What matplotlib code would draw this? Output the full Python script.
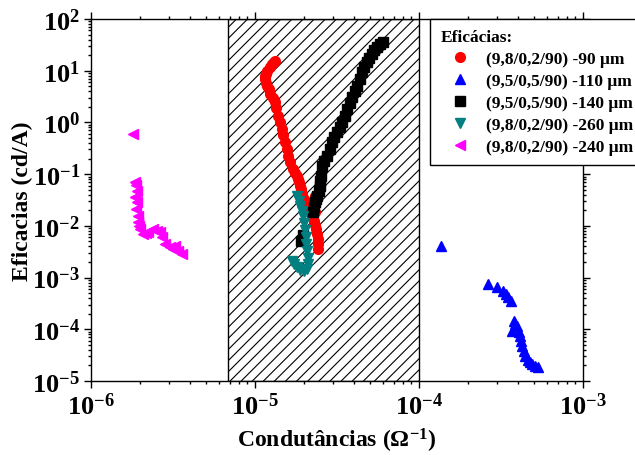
import numpy as np
import matplotlib
matplotlib.use("Agg")
import matplotlib.pyplot as plt
from matplotlib.ticker import LogLocator, FuncFormatter, NullFormatter

plt.rcParams['font.family'] = ['Liberation Serif', 'DejaVu Serif']
plt.rcParams['font.weight'] = 'bold'
plt.rcParams['mathtext.fontset'] = 'custom'
plt.rcParams['mathtext.rm'] = 'Liberation Serif:bold'
plt.rcParams['mathtext.bf'] = 'Liberation Serif:bold'
plt.rcParams['mathtext.it'] = 'Liberation Serif:bold'
plt.rcParams['hatch.linewidth'] = 0.8

# Data (conductance in 1/ohm, efficacy in cd/A)
red_x = [1.32e-5, 1.30e-5, 1.27e-5, 1.23e-5, 1.19e-5, 1.16e-5, 1.15e-5, 1.15e-5, 1.16e-5, 1.18e-5,
         1.21e-5, 1.24e-5, 1.28e-5, 1.32e-5, 1.35e-5, 1.38e-5, 1.42e-5, 1.46e-5, 1.49e-5, 1.52e-5,
         1.56e-5, 1.59e-5, 1.64e-5, 1.70e-5, 1.75e-5, 1.80e-5, 1.82e-5, 1.85e-5, 1.88e-5, 1.91e-5,
         1.94e-5, 1.98e-5, 2.02e-5, 2.06e-5, 2.10e-5, 2.16e-5, 2.23e-5, 2.28e-5, 2.32e-5, 2.36e-5,
         2.39e-5, 2.41e-5, 2.42e-5, 2.42e-5, 2.32e-5, 2.32e-5]
red_y = [15.4, 14.6, 13.5, 11.8, 9.9, 8.8, 7.9, 6.8, 5.8, 5.0,
         4.4, 3.6, 3.0, 2.5, 1.9, 1.33, 1.0, 0.75, 0.56, 0.42,
         0.31, 0.22, 0.17, 0.126, 0.105, 0.092, 0.080, 0.070, 0.060, 0.051,
         0.041, 0.033, 0.028, 0.024, 0.021, 0.0185, 0.0152, 0.0124, 0.0103, 0.0087,
         0.0070, 0.0056, 0.0045, 0.0036, 0.0377, 0.0185]

blue_x = [1.36e-4, 2.64e-4, 2.99e-4, 3.25e-4, 3.39e-4, 3.49e-4, 3.64e-4, 3.79e-4, 3.69e-4, 3.85e-4,
          3.96e-4, 4.05e-4, 4.13e-4, 4.20e-4, 4.25e-4, 4.34e-4, 4.43e-4, 4.60e-4, 4.75e-4, 4.92e-4,
          5.1e-4, 5.3e-4]
blue_y = [4.06e-3, 7.5e-4, 6.5e-4, 5.5e-4, 4.8e-4, 4.2e-4, 3.5e-4, 1.44e-4, 9.2e-5, 1.25e-4,
          1.15e-4, 9.0e-5, 7.4e-5, 6.0e-5, 4.7e-5, 3.8e-5, 3.0e-5, 2.6e-5, 2.3e-5, 2.1e-5,
          1.94e-5, 1.86e-5]

black_x = [1.91e-5, 1.96e-5, 2.26e-5, 2.29e-5, 2.32e-5, 2.36e-5, 2.39e-5, 2.44e-5, 2.49e-5, 2.49e-5,
           2.52e-5, 2.56e-5, 2.65e-5, 2.75e-5, 2.85e-5, 2.95e-5, 3.05e-5, 3.16e-5, 3.28e-5, 3.39e-5,
           3.52e-5, 3.64e-5, 3.77e-5, 3.90e-5, 4.05e-5, 4.19e-5, 4.34e-5, 4.49e-5, 4.65e-5, 4.82e-5,
           4.99e-5, 5.16e-5, 5.35e-5, 5.55e-5, 5.78e-5, 6.02e-5]
black_y = [0.0051, 0.0066, 0.0185, 0.023, 0.0288, 0.033, 0.0377, 0.047, 0.059, 0.074,
           0.092, 0.143, 0.18, 0.224, 0.31, 0.418, 0.53, 0.652, 0.82, 1.02,
           1.36, 1.82, 2.4, 3.1, 4.0, 5.06, 6.9, 9.44, 11.8, 14.7,
           17.6, 21.0, 24.6, 28.7, 32.3, 35.9]

teal_x = [1.80e-5, 1.85e-5, 1.88e-5, 1.94e-5, 1.96e-5, 1.99e-5, 2.02e-5, 2.05e-5, 2.05e-5, 2.08e-5,
          2.10e-5, 2.10e-5, 2.08e-5, 1.99e-5, 1.88e-5, 1.80e-5, 1.73e-5, 1.68e-5]
teal_y = [0.0377, 0.0302, 0.0241, 0.0193, 0.0155, 0.0113, 0.0083, 0.0061, 0.0045, 0.0033,
          0.0024, 0.0018, 0.00146, 0.00134, 0.00140, 0.00160, 0.00182, 0.00209]

mag_x = [1.80e-6, 1.85e-6, 1.88e-6, 1.91e-6, 1.85e-6, 1.91e-6, 1.88e-6, 1.94e-6, 1.94e-6, 1.96e-6,
         1.99e-6, 2.07e-6, 2.15e-6, 2.23e-6, 2.39e-6, 2.52e-6, 2.64e-6, 2.71e-6, 2.83e-6, 3.03e-6,
         3.15e-6, 3.25e-6, 3.39e-6, 3.59e-6]
mag_y = [0.60, 0.070, 0.063, 0.047, 0.036, 0.029, 0.021, 0.0155, 0.0119, 0.010,
         0.0087, 0.0069, 0.0072, 0.0076, 0.0087, 0.0079, 0.0076, 0.0061, 0.0044, 0.0039,
         0.0036, 0.0041, 0.0033, 0.00285]

labels = ["(9,8/0,2/90) -90 \u03bcm", "(9,5/0,5/90) -110 \u03bcm", "(9,5/0,5/90) -140 \u03bcm",
          "(9,8/0,2/90) -260 \u03bcm", "(9,8/0,2/90) -240 \u03bcm"]

# shaded region limits
span_lo, span_hi = 6.8e-6, 1.0e-4

fig = plt.figure(figsize=(6.35, 4.56), dpi=100)
ax = fig.add_axes([91 / 635, 1 - 382 / 456, 492 / 635, 362 / 456])

ax.axvspan(span_lo, span_hi, facecolor='white', edgecolor='black', hatch='///', linewidth=1, zorder=0)

ms = 7
ax.plot(red_x, red_y, 'o', color='red', ms=ms, label=labels[0], zorder=2)
ax.plot(blue_x, blue_y, '^', color='blue', ms=ms, label=labels[1], zorder=2)
ax.plot(black_x, black_y, 's', color='black', ms=6.5, label=labels[2], zorder=2)
ax.plot(teal_x, teal_y, 'v', color='#008080', ms=ms, label=labels[3], zorder=3)
ax.plot(mag_x, mag_y, '<', color='#FF00FF', ms=ms, label=labels[4], zorder=2)

ax.set_xscale('log')
ax.set_yscale('log')
ax.set_xlim(1e-6, 1e-3)
ax.set_ylim(1e-5, 1e2)

fmt = FuncFormatter(lambda v, p: r'$\mathregular{10^{%d}}$' % int(round(np.log10(v))))
ax.xaxis.set_major_locator(LogLocator(base=10, numticks=10))
ax.yaxis.set_major_locator(LogLocator(base=10, numticks=10))
ax.xaxis.set_minor_locator(LogLocator(base=10, subs=np.arange(2, 10), numticks=20))
ax.yaxis.set_minor_locator(LogLocator(base=10, subs=np.arange(2, 10), numticks=20))
ax.xaxis.set_major_formatter(fmt)
ax.yaxis.set_major_formatter(fmt)
ax.xaxis.set_minor_formatter(NullFormatter())
ax.yaxis.set_minor_formatter(NullFormatter())

ax.tick_params(which='both', direction='out', top=True, right=True, width=1)
ax.tick_params(which='major', length=5, labelsize=19, pad=3)
ax.tick_params(which='minor', length=2.5)
for s in ax.spines.values():
    s.set_linewidth(1)

ax.set_xlabel(r'Condutâncias ($\mathregular{\Omega^{-1}}$)', fontsize=17, fontweight='bold', labelpad=5)
ax.set_ylabel('Eficacias (cd/A)', fontsize=17, fontweight='bold')
ax.yaxis.set_label_coords(-0.118, 0.5)

leg = ax.legend(loc='upper left', bbox_to_anchor=(430 / 635, 1 - 20 / 456), bbox_transform=fig.transFigure,
                borderaxespad=0, borderpad=0.6, fancybox=False, edgecolor='black', framealpha=1,
                title='Eficácias:', alignment='left', handlelength=2.3, handletextpad=0.3,
                labelspacing=0.33, prop={'family': 'Liberation Serif', 'weight': 'bold', 'size': 12.5},
                title_fontproperties={'family': 'Liberation Serif', 'weight': 'bold', 'size': 12.5})
leg.get_frame().set_linewidth(1)

fig.savefig('out.png', dpi=100)
